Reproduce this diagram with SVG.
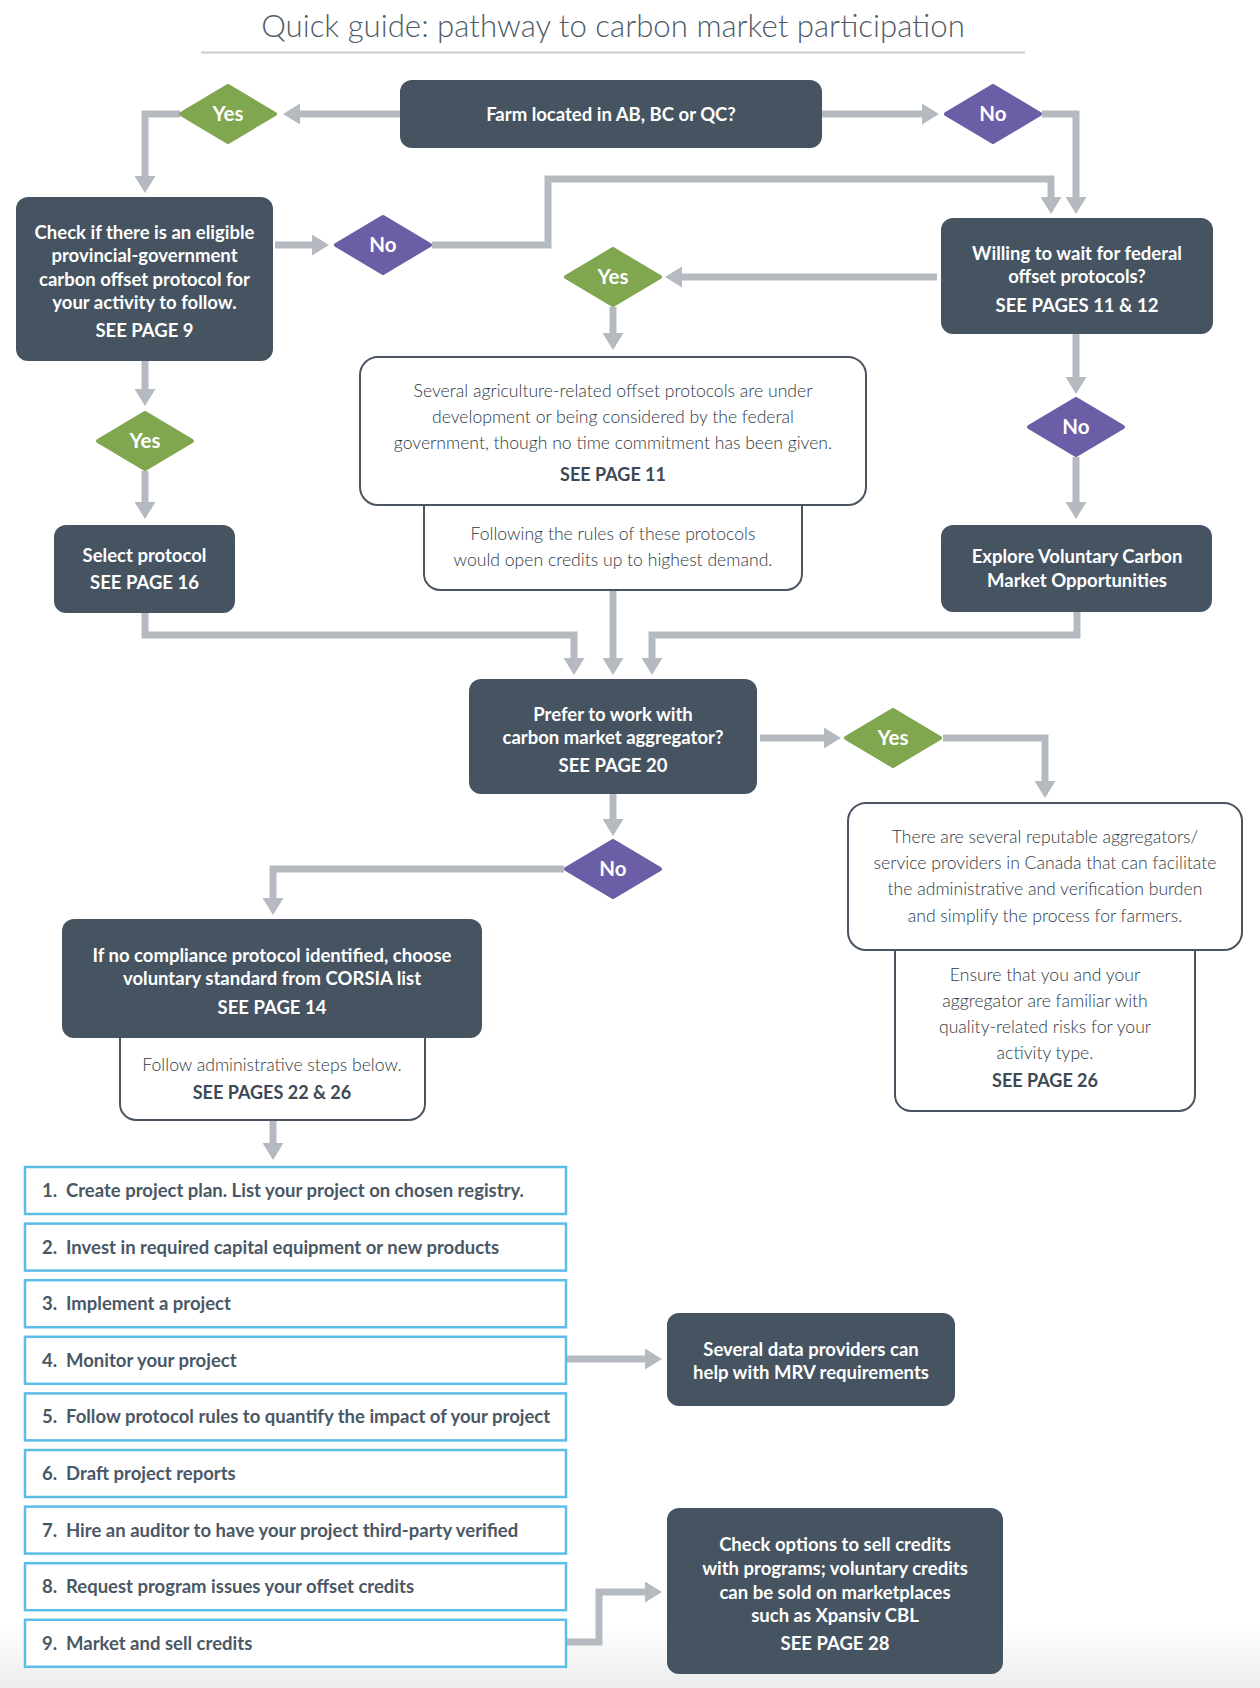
<svg xmlns="http://www.w3.org/2000/svg" width="1260" height="1688" viewBox="0 0 1260 1688">
<defs>
<marker id="ah" markerUnits="userSpaceOnUse" markerWidth="18" markerHeight="21" viewBox="0 0 17 21" refX="2" refY="10.5" orient="auto">
<path d="M0,0 L17,10.5 L0,21 z" fill="#b5bac0"/>
</marker>
<linearGradient id="bg" x1="0" y1="0" x2="0" y2="1">
<stop offset="0" stop-color="#ffffff"/>
<stop offset="1" stop-color="#ececec"/>
</linearGradient>
<style>
.dark{fill:#465462;}
.white{fill:#ffffff;stroke:#4a5561;stroke-width:2;}
.step{fill:#ffffff;stroke:#5cbde6;stroke-width:2.5;}
.green{fill:#80a64f;stroke:#80a64f;stroke-width:4;stroke-linejoin:round;}
.purple{fill:#6c5ea6;stroke:#6c5ea6;stroke-width:4;stroke-linejoin:round;}
.conn path{fill:none;stroke:#b5bac0;stroke-width:7;marker-end:url(#ah);}
text{font-family:Lato,"Noto Sans","Liberation Sans",sans-serif;}
.wt{fill:#ffffff;font-weight:700;font-size:18.5px;text-anchor:middle;}
.dt{fill:#ffffff;font-weight:700;font-size:20.5px;text-anchor:middle;}
.lt{fill:#2e3944;font-weight:300;font-size:17.6px;text-anchor:middle;}
.lb{fill:#3e4955;font-weight:700;font-size:18px;text-anchor:middle;}
.st{fill:#4a5866;font-weight:700;font-size:18.5px;}
</style>
</defs>
<rect x="0" y="0" width="1260" height="1688" fill="#ffffff"/>
<rect x="0" y="1625" width="1260" height="63" fill="url(#bg)"/>

<g id="title">
<text x="613" y="37" style="fill:#4f5b67;font-weight:300;font-size:31.2px;text-anchor:middle;">Quick guide: pathway to carbon market participation</text>
<line x1="201" y1="52.5" x2="1025" y2="52.5" stroke="#c9cbce" stroke-width="2"/>
</g>

<g class="conn" id="connectors">
<path d="M400,114 H298"/>
<path d="M180,114 H145 V178"/>
<path d="M822,114 H924"/>
<path d="M1042,114 H1076 V199"/>
<path d="M275,245 H314"/>
<path d="M432,245 H548 V179 H1051 V199"/>
<path d="M937,277 H680"/>
<path d="M613,307 V335"/>
<path d="M1076,334 V379"/>
<path d="M1076,457 V504"/>
<path d="M145,361 V391"/>
<path d="M145,471 V504"/>
<path d="M145,613 V635 H574 V660"/>
<path d="M613,590 V660"/>
<path d="M1077,612 V635 H652 V660"/>
<path d="M760,738 H826"/>
<path d="M943,738 H1045 V783"/>
<path d="M613,794 V821"/>
<path d="M564,869 H273 V900"/>
<path d="M273,1120 V1145"/>
<path d="M566,1359 H647"/>
<path d="M566,1642 H599 V1592 H647"/>
</g>

<g id="farm">
<rect class="dark" x="400" y="80" width="422" height="68" rx="12"/>
<text class="wt" x="611" y="120.5">Farm located in AB, BC or QC?</text>
</g>

<g id="yes1">
<polygon class="green" points="228,86 275,114 228,142 181,114"/>
<text class="dt" x="228" y="121">Yes</text>
</g>

<g id="no1">
<polygon class="purple" points="993,86 1040,114 993,142 946,114"/>
<text class="dt" x="993" y="121">No</text>
</g>

<g id="check">
<rect class="dark" x="16" y="197" width="257" height="164" rx="12"/>
<text class="wt" x="144.5" y="238.5">Check if there is an eligible</text>
<text class="wt" x="144.5" y="261.5">provincial-government</text>
<text class="wt" x="144.5" y="285.5">carbon offset protocol for</text>
<text class="wt" x="144.5" y="308.5">your activity to follow.</text>
<text class="wt" x="144.5" y="336.5">SEE PAGE 9</text>
</g>

<g id="no2">
<polygon class="purple" points="383,217 430,245 383,273 336,245"/>
<text class="dt" x="383" y="252">No</text>
</g>

<g id="willing">
<rect class="dark" x="941" y="218" width="272" height="116" rx="12"/>
<text class="wt" x="1077" y="259.5">Willing to wait for federal</text>
<text class="wt" x="1077" y="282.5">offset protocols?</text>
<text class="wt" x="1077" y="311.5">SEE PAGES 11 &amp; 12</text>
</g>

<g id="yes2">
<polygon class="green" points="613,249 660,277 613,305 566,277"/>
<text class="dt" x="613" y="284">Yes</text>
</g>

<g id="following">
<rect class="white" x="424" y="480" width="378" height="110" rx="16"/>
<text class="lt" x="613" y="540">Following the rules of these protocols</text>
<text class="lt" x="613" y="566">would open credits up to highest demand.</text>
</g>

<g id="several">
<rect class="white" x="360" y="357" width="506" height="148" rx="18"/>
<text class="lt" x="613" y="397">Several agriculture-related offset protocols are under</text>
<text class="lt" x="613" y="423">development or being considered by the federal</text>
<text class="lt" x="613" y="449">government, though no time commitment has been given.</text>
<text class="lb" x="613" y="480.5">SEE PAGE 11</text>
</g>

<g id="yes3">
<polygon class="green" points="145,413 192,441 145,469 98,441"/>
<text class="dt" x="145" y="448">Yes</text>
</g>

<g id="no3">
<polygon class="purple" points="1076,399 1123,427 1076,455 1029,427"/>
<text class="dt" x="1076" y="434">No</text>
</g>

<g id="select">
<rect class="dark" x="54" y="525" width="181" height="88" rx="12"/>
<text class="wt" x="144.5" y="561.5">Select protocol</text>
<text class="wt" x="144.5" y="588.5">SEE PAGE 16</text>
</g>

<g id="explore">
<rect class="dark" x="941" y="525" width="271" height="87" rx="12"/>
<text class="wt" x="1077" y="562.5">Explore Voluntary Carbon</text>
<text class="wt" x="1077" y="586.5">Market Opportunities</text>
</g>

<g id="prefer">
<rect class="dark" x="469" y="679" width="288" height="115" rx="12"/>
<text class="wt" x="613" y="720.5">Prefer to work with</text>
<text class="wt" x="613" y="743.5">carbon market aggregator?</text>
<text class="wt" x="613" y="771.5">SEE PAGE 20</text>
</g>

<g id="yes4">
<polygon class="green" points="893,710 940,738 893,766 846,738"/>
<text class="dt" x="893" y="745">Yes</text>
</g>

<g id="ensure">
<rect class="white" x="895" y="930" width="300" height="181" rx="16"/>
<text class="lt" x="1045" y="981">Ensure that you and your</text>
<text class="lt" x="1045" y="1007">aggregator are familiar with</text>
<text class="lt" x="1045" y="1033">quality-related risks for your</text>
<text class="lt" x="1045" y="1059">activity type.</text>
<text class="lb" x="1045" y="1086.5">SEE PAGE 26</text>
</g>

<g id="aggregators">
<rect class="white" x="848" y="803" width="394" height="147" rx="18"/>
<text class="lt" x="1045" y="843">There are several reputable aggregators/</text>
<text class="lt" x="1045" y="869">service providers in Canada that can facilitate</text>
<text class="lt" x="1045" y="895">the administrative and verification burden</text>
<text class="lt" x="1045" y="922">and simplify the process for farmers.</text>
</g>

<g id="no4">
<polygon class="purple" points="613,841 660,869 613,897 566,869"/>
<text class="dt" x="613" y="876">No</text>
</g>

<g id="followadmin">
<rect class="white" x="120" y="1020" width="305" height="100" rx="16"/>
<text class="lt" x="272" y="1071">Follow administrative steps below.</text>
<text class="lb" x="272" y="1098.5">SEE PAGES 22 &amp; 26</text>
</g>

<g id="ifno">
<rect class="dark" x="62" y="919" width="420" height="119" rx="12"/>
<text class="wt" x="272" y="961.5">If no compliance protocol identified, choose</text>
<text class="wt" x="272" y="984.5">voluntary standard from CORSIA list</text>
<text class="wt" x="272" y="1013.5">SEE PAGE 14</text>
</g>

<g id="step1"><rect class="step" x="25" y="1167" width="541" height="47"/><text class="st" x="42" y="1197">1.</text><text class="st" x="66" y="1197">Create project plan. List your project on chosen registry.</text></g>
<g id="step2"><rect class="step" x="25" y="1223.6" width="541" height="47"/><text class="st" x="42" y="1253.6">2.</text><text class="st" x="66" y="1253.6">Invest in required capital equipment or new products</text></g>
<g id="step3"><rect class="step" x="25" y="1280.2" width="541" height="47"/><text class="st" x="42" y="1310.2">3.</text><text class="st" x="66" y="1310.2">Implement a project</text></g>
<g id="step4"><rect class="step" x="25" y="1336.8" width="541" height="47"/><text class="st" x="42" y="1366.8">4.</text><text class="st" x="66" y="1366.8">Monitor your project</text></g>
<g id="step5"><rect class="step" x="25" y="1393.4" width="541" height="47"/><text class="st" x="42" y="1423.4">5.</text><text class="st" x="66" y="1423.4">Follow protocol rules to quantify the impact of your project</text></g>
<g id="step6"><rect class="step" x="25" y="1450" width="541" height="47"/><text class="st" x="42" y="1480">6.</text><text class="st" x="66" y="1480">Draft project reports</text></g>
<g id="step7"><rect class="step" x="25" y="1506.6" width="541" height="47"/><text class="st" x="42" y="1536.6">7.</text><text class="st" x="66" y="1536.6">Hire an auditor to have your project third-party verified</text></g>
<g id="step8"><rect class="step" x="25" y="1563.2" width="541" height="47"/><text class="st" x="42" y="1593.2">8.</text><text class="st" x="66" y="1593.2">Request program issues your offset credits</text></g>
<g id="step9"><rect class="step" x="25" y="1619.8" width="541" height="47"/><text class="st" x="42" y="1649.8">9.</text><text class="st" x="66" y="1649.8">Market and sell credits</text></g>

<g id="data">
<rect class="dark" x="667" y="1313" width="288" height="93" rx="12"/>
<text class="wt" x="811" y="1355.5">Several data providers can</text>
<text class="wt" x="811" y="1378.5">help with MRV requirements</text>
</g>

<g id="sell">
<rect class="dark" x="667" y="1508" width="336" height="166" rx="12"/>
<text class="wt" x="835" y="1550.5">Check options to sell credits</text>
<text class="wt" x="835" y="1574.5">with programs; voluntary credits</text>
<text class="wt" x="835" y="1598.5">can be sold on marketplaces</text>
<text class="wt" x="835" y="1621.5">such as Xpansiv CBL</text>
<text class="wt" x="835" y="1649.5">SEE PAGE 28</text>
</g>
</svg>
